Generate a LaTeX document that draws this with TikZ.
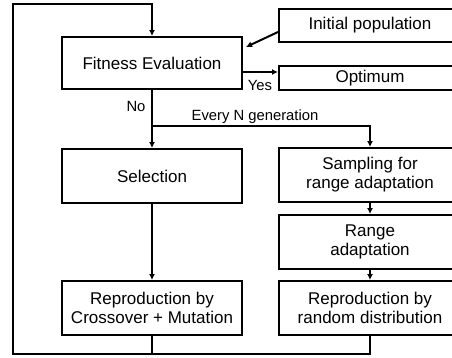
\documentclass[tikz,border=0pt]{standalone}
\usepackage{fontspec}
\setmainfont{Liberation Sans}
\usetikzlibrary{arrows.meta}
\begin{document}
\begin{tikzpicture}[x=1pt,y=-1pt,
  box/.style={draw,line width=2pt,align=center,font=\fontsize{17}{19}\selectfont,inner sep=0pt},
  lbox/.style={box,minimum width=180pt},
  rbox/.style={box,minimum width=182pt},
  lbl/.style={font=\fontsize{14.8}{16}\selectfont,inner sep=0pt},
  conn/.style={line width=2pt},
  arr/.style={conn,-{Latex[length=6pt,width=6pt]}}]
\clip (0,0) rectangle (452,357);
\node[lbox,minimum height=52pt] (fit) at (152,63) {Fitness Evaluation};
\node[rbox,minimum height=33pt] (init) at (370,25.5) {Initial population};
\node[rbox,minimum height=24pt] (opt) at (370,78) {Optimum};
\node[lbox,minimum height=54pt] (sel) at (152,176) {Selection};
\node[rbox,minimum height=54pt] (samp) at (370,175) {Sampling for\\range adaptation};
\node[rbox,minimum height=54pt] (range) at (370,242) {Range\\adaptation};
\node[lbox,minimum height=54pt] (repL) at (152,308) {Reproduction by\\Crossover + Mutation};
\node[rbox,minimum height=54pt] (repR) at (370,308) {Reproduction by\\random distribution};
\coordinate (tl) at (13,4);
\coordinate (bl) at (13,354);
\coordinate (split) at (152,126);
% loop back
\draw[conn] (repL.south) -- (repL.south |- bl);
\draw[arr] (repR.south) -- (repR.south |- bl) -| (tl) -| (fit.north);
% initial population
\draw[arr] ([yshift=-6.5pt]init.west) -- ([xshift=3pt,yshift=-11pt]fit.north east);
% yes
\draw[arr] ([yshift=-9pt]fit.east) -- ([yshift=-9pt]fit.east -| opt.west);
\node[lbl] (yes) at (260,85) {Yes};
% no
\draw[arr] (fit.south) -- (sel.north);
\node[lbl] (no) at (136,106) {No};
\draw[arr] (split) -| (samp.north);
\node[lbl] (every) at (255,117) {Every N generation};
\draw[arr] (sel.south) -- (repL.north);
\draw[arr] (samp.south) -- (range.north);
\draw[arr] (range.south) -- (repR.north);
\end{tikzpicture}
\end{document}
